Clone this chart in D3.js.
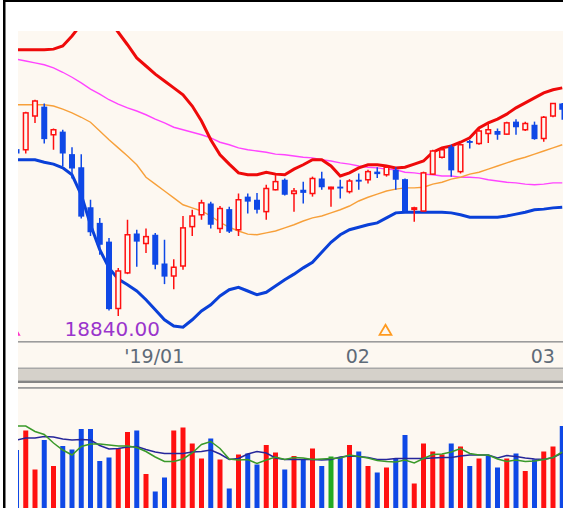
<!DOCTYPE html>
<html><head><meta charset="utf-8">
<script src="https://cdn.jsdelivr.net/npm/d3@7/dist/d3.min.js"></script>
<style>html,body{margin:0;padding:0;background:#fff;overflow:hidden}</style>
</head><body>
<svg id="c" width="563" height="508"></svg>
<script>
// ---- data ----
const opens  = [21510,21500,22040,22190,21740,21790,21430,21220,20580,20330,20030,18960,19530,20160,20000,20140,19680,19480,19640,20270,20460,20640,20240,20550,20220,20750,20700,20510,20860,21020,20800,20860,20800,21040,20880,20910,20830,21020,21020,21150,21100,21180,21030,20550,20520,21110,21380,21550,21150,21640,21600,21760,21800,21750,21950,21820,21900,21680,22040,22240];
const highs  = [21530,22110,22300,22240,21840,21820,21540,21430,20700,20410,20090,19610,20380,20220,20240,20170,20060,19750,20440,20540,20700,20670,20600,20590,20800,20800,20810,20940,21100,21040,20890,20990,21070,21150,20910,21020,21030,21120,21180,21220,21240,21220,21040,20590,21150,21500,21520,21580,21600,21660,21840,21920,21840,21950,21990,21950,21950,22040,22250,22250];
const lows   = [21420,21440,21930,21600,21500,21240,21040,20400,20120,19820,18930,18840,19510,19630,19850,19590,19350,19270,19580,20120,20380,20240,20170,20170,20120,20480,20480,20380,20850,20770,20510,20640,20750,20860,20590,20720,20800,20860,20960,21050,21070,20860,20510,20350,20510,21100,21360,21070,21120,21520,21580,21610,21660,21740,21740,21800,21660,21630,22020,21980];
const closes = [21440,22090,22280,21670,21820,21440,21200,20430,20180,19980,18950,19560,20140,20030,20110,19660,19470,19620,20250,20440,20650,20300,20560,20190,20700,20670,20540,20880,20990,20780,20840,20810,21040,20900,20900,20880,21000,20990,21150,21110,21220,21020,20520,20570,21130,21480,21500,21170,21580,21610,21800,21820,21740,21930,21860,21920,21670,22020,22240,22140];

const upperBand = [23100,23100,23100,23100,23110,23160,23320,23510,23660,23700,23580,23380,23180,22970,22840,22710,22600,22490,22380,22200,21960,21660,21420,21270,21130,21100,21100,21140,21110,21100,21190,21260,21340,21340,21240,21080,21130,21210,21260,21260,21240,21210,21220,21270,21320,21460,21530,21560,21620,21690,21850,21930,21990,22070,22170,22250,22330,22410,22460,22490];
const lowerBand = [21340,21340,21340,21300,21270,21210,21100,20780,20300,19900,19610,19430,19340,19240,19100,18940,18780,18680,18660,18780,18920,19020,19160,19260,19300,19240,19180,19220,19320,19420,19510,19610,19700,19860,20020,20140,20220,20260,20300,20330,20410,20490,20500,20500,20500,20500,20500,20490,20460,20420,20420,20420,20420,20440,20470,20500,20540,20550,20570,20580];
const ma25 = [22220,22220,22220,22220,22200,22150,22090,22020,21940,21800,21660,21530,21400,21260,21060,20950,20840,20730,20620,20570,20520,20440,20340,20260,20200,20150,20140,20170,20200,20250,20300,20360,20410,20440,20490,20540,20600,20680,20740,20790,20840,20870,20890,20890,20900,20950,20980,21030,21060,21110,21140,21190,21240,21290,21340,21380,21430,21480,21530,21580];
const ma75 = [22950,22920,22890,22860,22810,22740,22660,22570,22470,22390,22300,22230,22170,22120,22060,21990,21930,21860,21820,21780,21740,21690,21620,21580,21530,21500,21480,21460,21430,21420,21400,21380,21370,21340,21320,21290,21270,21240,21220,21210,21190,21180,21140,21130,21110,21100,21080,21080,21060,21060,21050,21020,21000,20980,20970,20950,20940,20950,20970,20970];

const volumes = [1240,1630,850,1440,920,1320,1250,1660,1660,1020,1090,1270,1600,1630,760,410,690,1630,1690,1370,1070,1470,1050,470,1150,1170,950,1340,1190,850,1120,1040,1270,920,1110,1090,1340,1210,920,790,890,1070,1540,570,1370,1210,1150,1370,1310,920,1070,1120,890,1070,1170,820,1050,1210,1310,1720];
const volDir = ["d","u","u","d","u","d","d","d","d","d","d","u","u","d","u","d","d","u","u","u","u","d","u","d","u","d","d","u","u","d","u","d","u","d","f","d","u","d","u","d","u","d","d","u","u","u","u","d","u","d","u","d","d","u","d","u","d","u","u","d"];
const volMA5  = [1720,1720,1610,1550,1380,1240,1140,1310,1360,1360,1340,1320,1320,1290,1210,1100,1010,1010,1060,1180,1350,1410,1270,1060,1040,1050,970,1040,1100,1050,1090,1080,1050,1060,1070,1080,1140,1110,1080,1030,1010,1000,1040,980,1070,1150,1160,1200,1270,1170,1140,1140,1060,1010,1040,1010,1020,1050,1090,1200];
const volMA25 = [1440,1480,1480,1510,1500,1460,1440,1450,1440,1330,1260,1270,1300,1310,1250,1200,1170,1170,1170,1200,1210,1240,1160,1050,1070,1160,1210,1180,1080,1050,1050,1050,1050,1040,1050,1100,1120,1110,1090,1050,1050,1070,1070,1070,1070,1080,1090,1090,1120,1140,1140,1140,1080,1130,1110,1080,1060,1050,1090,1180];

const tickIndex  = [15, 37, 57];
const tickLabels = ["'19/01", "02", "03"];
const lowIndex = 11;
const lowLabel = "18840.00";
const signalIndex = [-0.25, 40];
const signalKind  = ["sell", "buy"];

// ---- styles ----
const C = {
  pane: "#fdf8f1", up: "#ff1010", down: "#0f48e6", flat: "#22aa22",
  upper: "#ee0a0a", lower: "#0a40d8", ma25: "#f7a03a", ma75: "#ff44ff",
  v5: "#3a9a2a", v25: "#26269a", axisText: "#5f6b78", lowText: "#9a35cc"
};
const FONT = "'DejaVu Sans', Verdana, sans-serif";

const svg = d3.select("#c");
const W = 563, H = 508;
const P = {x0: 18, x1: 563, y0: 31, y1: 341};
const V = {y0: 389, y1: 508};

const x  = d3.scaleLinear().domain([0, 59]).range([16.5, 562.25]);
const yP = d3.scaleLinear().domain([18440, 23400]).range([P.y1, P.y0]);
const yV = d3.scaleLinear().domain([0, 2400]).range([512, 392]);

// frame
svg.append("rect").attr("width", W).attr("height", H).attr("fill", "#fff");
svg.append("rect").attr("x", P.x0).attr("y", P.y0).attr("width", W - P.x0).attr("height", H - P.y0).attr("fill", C.pane);
svg.append("rect").attr("x", 3).attr("y", 0).attr("width", W - 3).attr("height", 2).attr("fill", "#000");
svg.append("rect").attr("x", 3).attr("y", 0).attr("width", 2.5).attr("height", H).attr("fill", "#000");

// separators
svg.append("rect").attr("x", P.x0).attr("y", 341).attr("width", W - P.x0).attr("height", 1.6).attr("fill", "#9c9c9c");
svg.append("rect").attr("x", P.x0).attr("y", 367.5).attr("width", W - P.x0).attr("height", 1.5).attr("fill", "#a8a8a8");
svg.append("rect").attr("x", P.x0).attr("y", 369).attr("width", W - P.x0).attr("height", 11.5).attr("fill", "#d5d1ca");
svg.append("rect").attr("x", P.x0).attr("y", 380.5).attr("width", W - P.x0).attr("height", 2.5).attr("fill", "#858585");
svg.append("rect").attr("x", P.x0).attr("y", 387).attr("width", W - P.x0).attr("height", 1.8).attr("fill", "#9c9c9c");

const defs = svg.append("defs");
defs.append("clipPath").attr("id", "cp").append("rect")
  .attr("x", P.x0).attr("y", P.y0).attr("width", P.x1 - P.x0).attr("height", P.y1 - P.y0);
defs.append("clipPath").attr("id", "cv").append("rect")
  .attr("x", P.x0).attr("y", V.y0 + 1).attr("width", P.x1 - P.x0).attr("height", V.y1 - V.y0);

// ---- price pane ----
const gp = svg.append("g").attr("clip-path", "url(#cp)");
const lineP = d3.line().x((d, i) => x(i)).y(d => yP(d));
gp.append("path").datum(ma75).attr("d", lineP).attr("fill", "none").attr("stroke", C.ma75).attr("stroke-width", 1.4);
gp.append("path").datum(ma25).attr("d", lineP).attr("fill", "none").attr("stroke", C.ma25).attr("stroke-width", 1.4);
gp.append("path").datum(upperBand).attr("d", lineP).attr("fill", "none").attr("stroke", C.upper).attr("stroke-width", 3);
gp.append("path").datum(lowerBand).attr("d", lineP).attr("fill", "none").attr("stroke", C.lower).attr("stroke-width", 3);

const candles = d3.range(opens.length).map(i => ({i, o: opens[i], h: highs[i], l: lows[i], c: closes[i]}));
const cg = gp.selectAll("g.cd").data(candles).join("g");
cg.append("line")
  .attr("x1", d => x(d.i)).attr("x2", d => x(d.i))
  .attr("y1", d => yP(d.h)).attr("y2", d => yP(d.l))
  .attr("stroke", d => d.c >= d.o ? C.up : C.down).attr("stroke-width", 1.5);
cg.append("rect")
  .attr("x", d => x(d.i) - (d.c >= d.o ? 2.3 : 3))
  .attr("width", d => d.c >= d.o ? 4.6 : 6)
  .attr("y", d => yP(Math.max(d.o, d.c)))
  .attr("height", d => Math.max(1.5, Math.abs(yP(d.o) - yP(d.c))))
  .attr("fill", d => d.c >= d.o ? C.pane : C.down)
  .attr("stroke", d => d.c >= d.o ? C.up : "none")
  .attr("stroke-width", 1.5);

// low label
gp.append("text").attr("x", x(lowIndex) - 6).attr("y", 336)
  .attr("text-anchor", "middle").attr("font-family", FONT).attr("font-size", 20)
  .attr("fill", C.lowText).text(lowLabel);

// signal markers
const tri = d3.symbol().type(d3.symbolTriangle2).size(100);
gp.selectAll("path.sig").data(signalIndex).join("path")
  .attr("transform", (d) => `translate(${x(d) - 1},331.5)`)
  .attr("d", tri)
  .attr("fill", "none")
  .attr("stroke", (d, k) => signalKind[k] === "buy" ? "#ff9a1f" : "#ff33cc")
  .attr("stroke-width", 1.8);

// ---- date axis ----
const ax = d3.axisBottom(x).tickValues(tickIndex).tickFormat((d, k) => tickLabels[k]).tickSize(0).tickPadding(7);
const ga = svg.append("g").attr("transform", "translate(-1.5,343)").call(ax);
ga.select(".domain").remove();
ga.selectAll("text").attr("font-family", FONT).attr("font-size", 19).attr("fill", C.axisText);

// ---- volume pane ----
const gv = svg.append("g").attr("clip-path", "url(#cv)");
gv.selectAll("rect.v").data(volumes).join("rect")
  .attr("x", (d, i) => x(i) - 2.5).attr("width", 5)
  .attr("y", d => yV(d)).attr("height", d => yV(0) - yV(d))
  .attr("fill", (d, i) => volDir[i] === "u" ? C.up : volDir[i] === "d" ? C.down : C.flat);
const lineV = d3.line().x((d, i) => x(i)).y(d => yV(d));
gv.append("path").datum(volMA25).attr("d", lineV).attr("fill", "none").attr("stroke", C.v25).attr("stroke-width", 1.5);
gv.append("path").datum(volMA5).attr("d", lineV).attr("fill", "none").attr("stroke", C.v5).attr("stroke-width", 1.5);
</script>
</body></html>
